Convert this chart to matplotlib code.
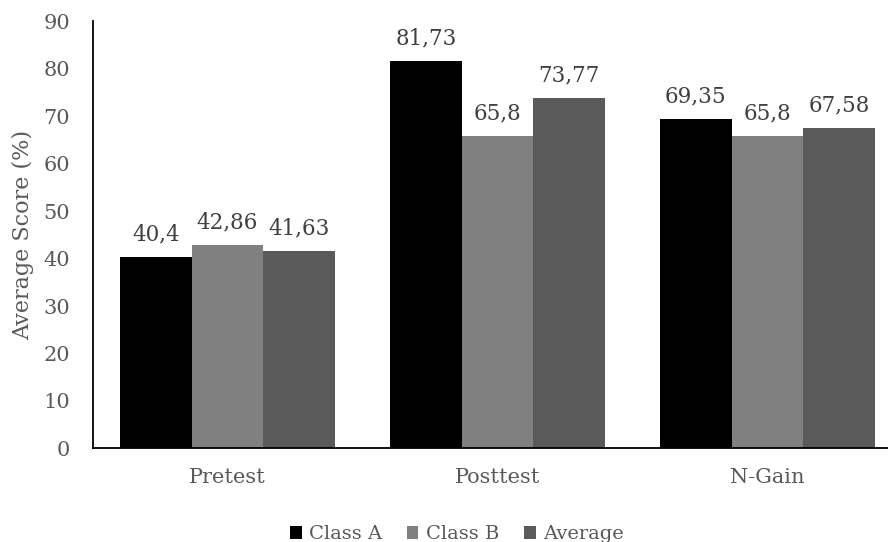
import matplotlib
matplotlib.use("Agg")
import matplotlib.pyplot as plt
import numpy as np

categories = ["Pretest", "Posttest", "N-Gain"]
series_names = ["Class A", "Class B", "Average"]
class_a = [40.4, 81.73, 69.35]
class_b = [42.86, 65.8, 65.8]
average = [41.63, 73.77, 67.58]
value_labels = [["40,4", "81,73", "69,35"],
                ["42,86", "65,8", "65,8"],
                ["41,63", "73,77", "67,58"]]
colors = ["#000000", "#808080", "#5a5a5a"]

plt.rcParams['font.family'] = ['DejaVu Serif']
txt = "#595959"

fig = plt.figure(figsize=(8.88, 5.42), dpi=100)
ax = fig.add_axes([92.5/888, 1 - 448.3/542, 810/888, (448.3-21.4)/542])

x = np.arange(len(categories))
w = 0.2655
data = [class_a, class_b, average]
for i, (vals, c, name) in enumerate(zip(data, colors, series_names)):
    bars = ax.bar(x + (i - 1) * w, vals, w, color=c, label=name)
    for b, lab in zip(bars, value_labels[i]):
        ax.annotate(lab, (b.get_x() + b.get_width() / 2, b.get_height()),
                    xytext=(0, 12), textcoords="offset points",
                    ha="center", va="baseline", fontsize=15.5, color="#404040")

ax.set_xlim(-0.5, 2.5)
ax.set_ylim(0, 90)
ax.set_yticks(range(0, 91, 10))
ax.set_xticks(x)
ax.set_xticklabels(categories)
ax.tick_params(axis="both", length=0, labelsize=15, colors=txt)
ax.tick_params(axis="y", pad=16)
ax.tick_params(axis="x", pad=14)
for s in ["top", "right"]:
    ax.spines[s].set_visible(False)
ax.spines["left"].set_color("#000000")
ax.spines["bottom"].set_color("#000000")
ax.spines["left"].set_linewidth(1.3)
ax.spines["bottom"].set_linewidth(1.3)
ax.set_ylabel("Average Score (%)", fontsize=16, color=txt, labelpad=7)

leg = fig.legend(loc="lower center", bbox_to_anchor=(457/888, -0.035), ncol=3,
                 frameon=False, fontsize=14, handlelength=0.6, handleheight=0.6,
                 handletextpad=0.4, columnspacing=1.25, labelcolor=txt)

fig.savefig("out.png", dpi=100)
